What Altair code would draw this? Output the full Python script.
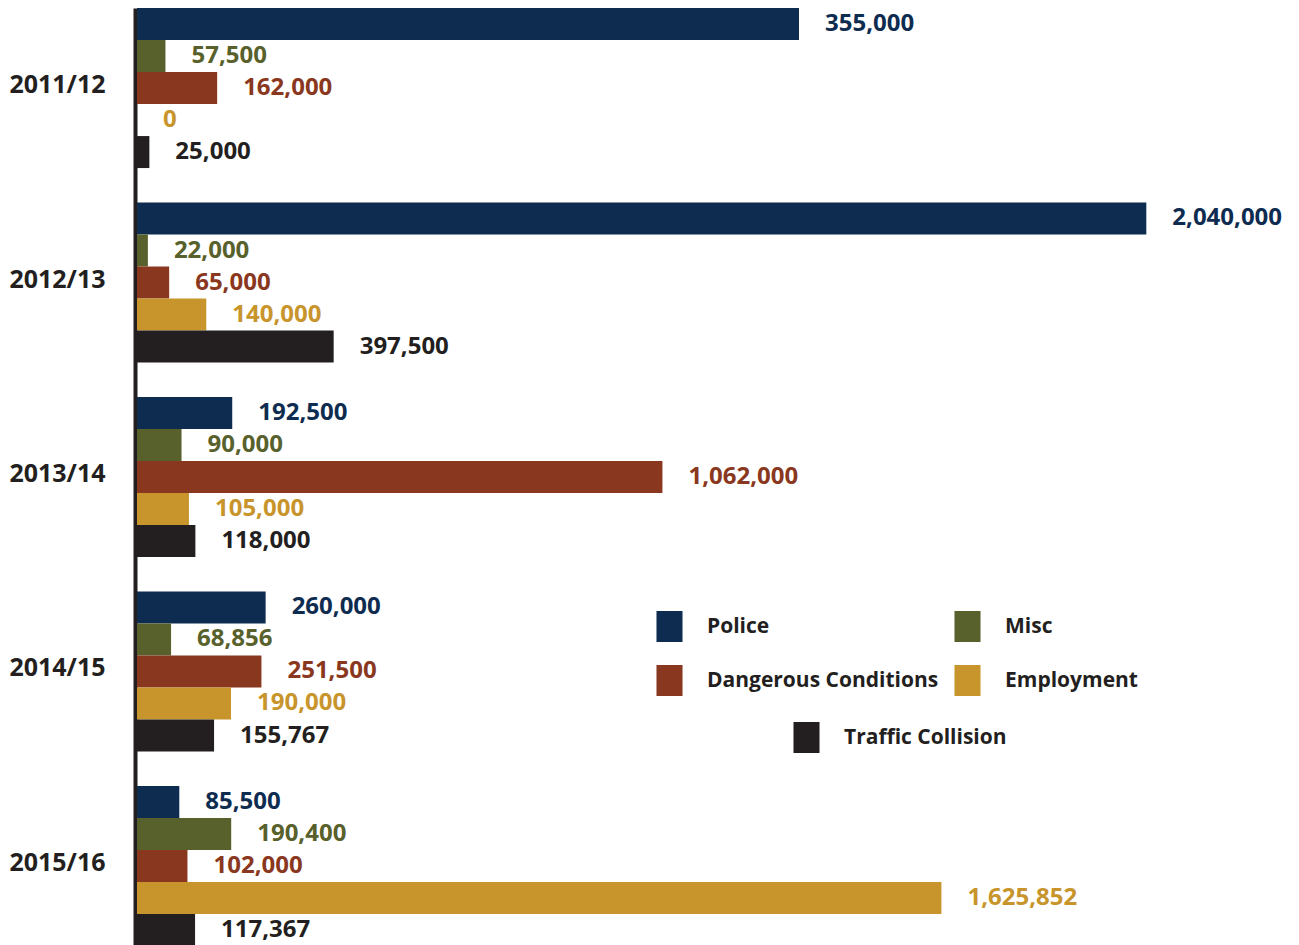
import altair as alt
import pandas as pd

years = ["2011/12", "2012/13", "2013/14", "2014/15", "2015/16"]
series = ["Police", "Misc", "Dangerous Conditions", "Employment", "Traffic Collision"]
colors = ["#0e2b50", "#58612b", "#8a3720", "#c8952c", "#231f20"]

# bar lengths as drawn in the picture
police = [1338000, 2040000, 192500, 260000, 85500]
misc = [57500, 22000, 90000, 68856, 190400]
dangerous = [162000, 65000, 1062000, 251500, 102000]
employment = [0, 140000, 105000, 190000, 1625852]
traffic = [25000, 397500, 118000, 155767, 117367]

# printed labels (the 2011/12 Police bar is labelled 355,000)
police_labels = [355000, 2040000, 192500, 260000, 85500]

rows = []
for i, y in enumerate(years):
    vals = [police[i], misc[i], dangerous[i], employment[i], traffic[i]]
    labs = [police_labels[i], misc[i], dangerous[i], employment[i], traffic[i]]
    for s, v, l in zip(series, vals, labs):
        rows.append({"year": y, "series": s, "value": v, "label": f"{l:,}"})
df = pd.DataFrame(rows)
df_main = df[df["series"] != "Traffic Collision"]
df_traf = df[df["series"] == "Traffic Collision"]

FONT = "Open Sans"
main_scale = alt.Scale(domain=series[:4], range=colors[:4])
traf_scale = alt.Scale(domain=series[4:], range=colors[4:])

y_enc = alt.Y(
    "year:N",
    sort=years,
    scale=alt.Scale(domain=years, paddingInner=0.177, paddingOuter=0),
    axis=alt.Axis(
        title=None, ticks=False, labelFontSize=25, labelFontWeight="bold",
        labelColor="#231f20", labelFont=FONT, labelPadding=30, labelOffset=-3,
        domainColor="#231f20", domainWidth=4, offset=2,
    ),
)
yoff = alt.YOffset("series:N", scale=alt.Scale(domain=series, paddingInner=0, paddingOuter=0))
x_enc = alt.X("value:Q", scale=alt.Scale(domain=[0, 2100000]), axis=None)

legend_common = dict(
    title=None, orient="none",
    symbolType="M-0.84,-1H0.84V1H-0.84Z", symbolSize=961,
    symbolStrokeWidth=0, symbolOpacity=1,
    labelFontSize=21, labelFont=FONT, labelFontWeight="bold",
    labelColor="#231f20", labelOffset=22, labelLimit=400, padding=0,
)

bars_main = alt.Chart(df_main).mark_bar(size=32).encode(
    y=y_enc, yOffset=yoff, x=x_enc,
    color=alt.Color(
        "series:N", scale=main_scale,
        legend=alt.Legend(
            legendX=517, legendY=603, columns=2, direction="horizontal",
            rowPadding=23, columnPadding=13, **legend_common,
        ),
    ),
)

bars_traf = alt.Chart(df_traf).mark_bar(size=32).encode(
    y=y_enc, yOffset=yoff, x=x_enc,
    fill=alt.Fill(
        "series:N", scale=traf_scale,
        legend=alt.Legend(legendX=654, legendY=714, **legend_common),
    ),
)

text_props = dict(align="left", baseline="middle", dx=26, fontSize=24,
                  fontWeight="bold", font=FONT)

texts_main = alt.Chart(df_main).mark_text(**text_props).encode(
    y=y_enc, yOffset=yoff, x=x_enc, text="label:N",
    color=alt.Color("series:N", scale=main_scale, legend=None),
)
texts_traf = alt.Chart(df_traf).mark_text(**text_props).encode(
    y=y_enc, yOffset=yoff, x=x_enc, text="label:N",
    fill=alt.Fill("series:N", scale=traf_scale, legend=None),
)

chart = (
    alt.layer(bars_main, bars_traf, texts_main, texts_traf)
    .properties(
        width=1039, height=938,
        autosize=alt.AutoSizeParams(type="none"),
        padding={"left": 129, "top": 0, "right": 115, "bottom": 0},
    )
    .configure_view(stroke=None)
)

chart.save("out.html", embed_options={"renderer": "svg", "actions": False})
